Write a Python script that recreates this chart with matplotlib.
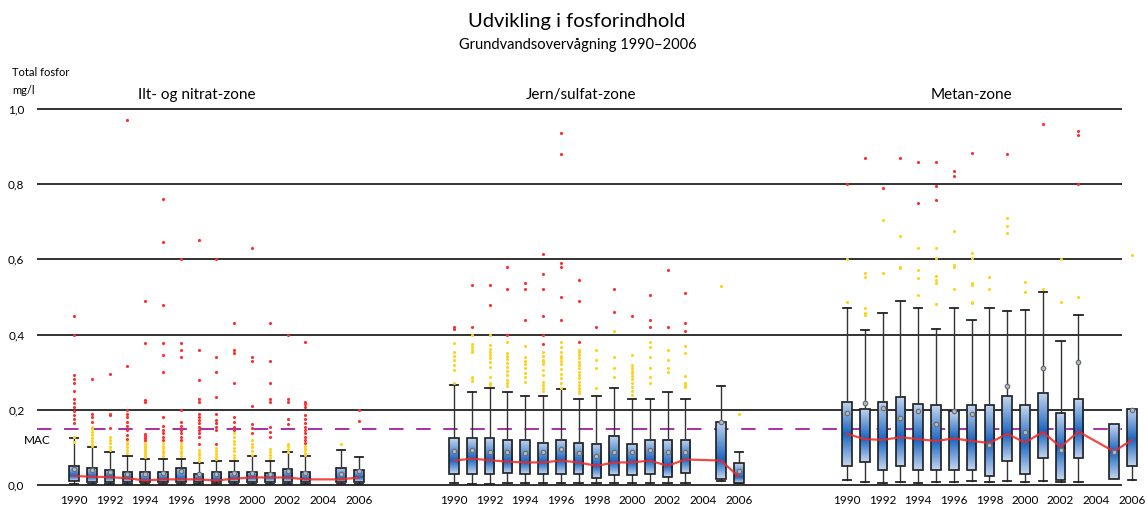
import numpy as np
import matplotlib
matplotlib.use("Agg")
import matplotlib.pyplot as plt
from matplotlib.colors import LinearSegmentedColormap
from matplotlib.patches import Rectangle

plt.rcParams['font.family'] = ['Lato', 'DejaVu Sans']

years = [1990, 1991, 1992, 1993, 1994, 1995, 1996, 1997, 1998, 1999, 2000, 2001, 2002, 2003, 2005, 2006]
tick_years = [1990, 1992, 1994, 1996, 1998, 2000, 2002, 2004, 2006]
zones = ["Ilt- og nitrat-zone", "Jern/sulfat-zone", "Metan-zone"]
mac = 0.15

# Ilt- og nitrat-zone
z1_low = [0.002, 0.002, 0.002, 0.002, 0.002, 0.002, 0.002, 0.002, 0.002, 0.002, 0.002, 0.002, 0.002, 0.002, 0.002, 0.002]
z1_q1 = [0.010, 0.008, 0.008, 0.007, 0.007, 0.008, 0.008, 0.007, 0.007, 0.008, 0.008, 0.007, 0.008, 0.007, 0.008, 0.008]
z1_med = [0.024, 0.022, 0.021, 0.018, 0.012, 0.015, 0.015, 0.015, 0.012, 0.017, 0.020, 0.020, 0.020, 0.015, 0.015, 0.020]
z1_q3 = [0.051, 0.046, 0.040, 0.035, 0.035, 0.035, 0.046, 0.030, 0.034, 0.035, 0.035, 0.033, 0.043, 0.035, 0.046, 0.040]
z1_high = [0.126, 0.101, 0.087, 0.078, 0.070, 0.070, 0.070, 0.059, 0.063, 0.063, 0.077, 0.063, 0.087, 0.078, 0.093, 0.074]
z1_mean = [0.042, 0.039, 0.034, 0.030, 0.030, 0.033, 0.037, 0.028, 0.030, 0.033, 0.032, 0.030, 0.037, 0.032, 0.030, 0.036]
z1_yellow = [
    [0.128, 0.115],
    [0.155, 0.148, 0.140, 0.133, 0.125, 0.118, 0.110, 0.104],
    [0.128, 0.120, 0.112, 0.100, 0.092],
    [0.115, 0.108, 0.100, 0.093, 0.085],
    [0.115, 0.110, 0.105, 0.100, 0.095, 0.090, 0.085, 0.080, 0.075],
    [0.112, 0.105, 0.098, 0.091, 0.084, 0.077],
    [0.112, 0.105, 0.098, 0.091, 0.084, 0.077],
    [0.093, 0.086, 0.079, 0.072, 0.065],
    [0.098, 0.090, 0.082, 0.075, 0.068],
    [0.137, 0.128, 0.118, 0.108, 0.098, 0.090, 0.080, 0.072],
    [0.120, 0.110, 0.100, 0.090, 0.080],
    [0.095, 0.088, 0.080, 0.072],
    [0.110, 0.103, 0.095, 0.088],
    [0.105, 0.098, 0.092, 0.085, 0.080],
    [0.109],
    [],
]
z1_red = [
    [0.45, 0.40, 0.292, 0.281, 0.270, 0.251, 0.229, 0.217, 0.207, 0.196, 0.185, 0.175, 0.164],
    [0.281, 0.190, 0.180, 0.168],
    [0.295, 0.190, 0.185, 0.151],
    [0.97, 0.316, 0.200, 0.190, 0.180, 0.168, 0.157, 0.146, 0.134, 0.123],
    [0.49, 0.378, 0.226, 0.220, 0.135, 0.130, 0.125, 0.120],
    [0.76, 0.646, 0.48, 0.378, 0.346, 0.301, 0.180, 0.157, 0.146, 0.137, 0.128, 0.120],
    [0.60, 0.378, 0.360, 0.341, 0.200, 0.167, 0.157, 0.146, 0.137, 0.128, 0.120],
    [0.651, 0.360, 0.279, 0.229, 0.222, 0.188, 0.182, 0.173, 0.164, 0.155, 0.146, 0.137, 0.128, 0.110],
    [0.60, 0.341, 0.301, 0.235, 0.190, 0.173, 0.164, 0.155, 0.146, 0.109],
    [0.43, 0.360, 0.350, 0.270, 0.180, 0.168, 0.155, 0.146],
    [0.63, 0.341, 0.330, 0.210, 0.162, 0.151, 0.137],
    [0.43, 0.330, 0.270, 0.230, 0.222, 0.155, 0.142, 0.128],
    [0.40, 0.228, 0.222, 0.175, 0.163],
    [0.38, 0.222, 0.215, 0.208, 0.186, 0.175, 0.164, 0.155, 0.146, 0.137, 0.128, 0.120, 0.112],
    [],
    [0.200, 0.170],
]

# Jern/sulfat-zone
z2_low = [0.006, 0.002, 0.002, 0.006, 0.006, 0.006, 0.006, 0.006, 0.006, 0.006, 0.006, 0.006, 0.006, 0.006, 0.010, 0.004]
z2_q1 = [0.029, 0.029, 0.029, 0.033, 0.029, 0.029, 0.029, 0.029, 0.019, 0.026, 0.026, 0.029, 0.022, 0.033, 0.015, 0.006]
z2_med = [0.065, 0.070, 0.066, 0.062, 0.060, 0.060, 0.065, 0.060, 0.051, 0.060, 0.060, 0.065, 0.051, 0.068, 0.065, 0.022]
z2_q3 = [0.124, 0.124, 0.124, 0.121, 0.121, 0.113, 0.121, 0.113, 0.110, 0.131, 0.110, 0.121, 0.121, 0.121, 0.168, 0.059]
z2_high = [0.267, 0.248, 0.259, 0.248, 0.238, 0.238, 0.255, 0.230, 0.238, 0.259, 0.230, 0.230, 0.248, 0.230, 0.262, 0.089]
z2_mean = [0.090, 0.092, 0.089, 0.089, 0.085, 0.087, 0.097, 0.085, 0.078, 0.087, 0.089, 0.092, 0.089, 0.089, 0.168, 0.038]
z2_yellow = [
    [0.377, 0.355, 0.343, 0.333, 0.319, 0.306, 0.270],
    [0.400, 0.376, 0.367, 0.360, 0.354, 0.288, 0.284, 0.277],
    [0.400, 0.372, 0.363, 0.355, 0.346, 0.337, 0.328, 0.315, 0.286, 0.270, 0.266],
    [0.381, 0.352, 0.343, 0.335, 0.324, 0.314, 0.304, 0.293, 0.280, 0.271, 0.262],
    [0.370, 0.340, 0.331, 0.322, 0.310, 0.297, 0.286, 0.275],
    [0.354, 0.343, 0.332, 0.328, 0.322, 0.306, 0.293, 0.275, 0.266, 0.257, 0.251],
    [0.381, 0.368, 0.354, 0.343, 0.337, 0.331, 0.322, 0.308, 0.296, 0.284, 0.271, 0.257],
    [0.360, 0.354, 0.345, 0.337, 0.328, 0.319, 0.310, 0.301, 0.293, 0.284, 0.275, 0.266, 0.257, 0.251, 0.244],
    [0.360, 0.332, 0.310, 0.259],
    [0.410, 0.341, 0.310, 0.286],
    [0.346, 0.319, 0.310, 0.304, 0.297, 0.290, 0.281, 0.271, 0.260, 0.249, 0.240],
    [0.381, 0.368, 0.340, 0.310, 0.288, 0.271],
    [0.360, 0.332, 0.310, 0.301],
    [0.370, 0.350, 0.290, 0.271, 0.266, 0.260],
    [0.53],
    [0.19],
]
z2_red = [
    [0.421, 0.416],
    [0.532, 0.421],
    [0.532, 0.48],
    [0.58, 0.52, 0.40],
    [0.536, 0.521, 0.44],
    [0.615, 0.561, 0.521, 0.45, 0.40, 0.375],
    [0.936, 0.881, 0.59, 0.58, 0.501, 0.44],
    [0.545, 0.49, 0.381],
    [0.421],
    [0.521, 0.459],
    [0.45],
    [0.506, 0.44, 0.421],
    [0.571, 0.421],
    [0.511, 0.43, 0.41],
    [],
    [],
]

# Metan-zone
z3_low = [0.014, 0.007, 0.004, 0.007, 0.004, 0.007, 0.007, 0.011, 0.007, 0.011, 0.007, 0.011, 0.007, 0.007, 0.016, 0.014]
z3_q1 = [0.050, 0.060, 0.041, 0.050, 0.041, 0.041, 0.041, 0.041, 0.023, 0.065, 0.030, 0.071, 0.014, 0.073, 0.016, 0.050]
z3_med = [0.136, 0.122, 0.120, 0.127, 0.122, 0.117, 0.124, 0.117, 0.112, 0.136, 0.113, 0.141, 0.101, 0.142, 0.089, 0.120]
z3_q3 = [0.222, 0.202, 0.222, 0.234, 0.216, 0.212, 0.196, 0.212, 0.212, 0.237, 0.212, 0.246, 0.191, 0.229, 0.162, 0.202]
z3_high = [0.470, 0.412, 0.457, 0.490, 0.470, 0.416, 0.470, 0.439, 0.470, 0.464, 0.465, 0.512, 0.382, 0.452, 0.162, 0.202]
z3_mean = [0.191, 0.218, 0.204, 0.178, 0.196, 0.163, 0.196, 0.188, 0.106, 0.264, 0.140, 0.312, 0.094, 0.327, 0.088, 0.200]
z3_yellow = [
    [0.60, 0.487],
    [0.563, 0.552, 0.470, 0.457, 0.452],
    [0.706, 0.565],
    [0.662, 0.580, 0.576],
    [0.631, 0.571, 0.551, 0.506],
    [0.631, 0.604, 0.557, 0.545, 0.536, 0.481],
    [0.676, 0.586, 0.580, 0.521],
    [0.616, 0.604, 0.536, 0.532, 0.487, 0.483],
    [0.554, 0.521],
    [0.711, 0.690, 0.671],
    [0.541, 0.512],
    [0.521],
    [0.60, 0.488],
    [0.501],
    [],
    [0.612],
]
z3_red = [
    [0.80], [0.871], [0.79], [0.871], [0.86, 0.75], [0.858, 0.796, 0.757],
    [0.836, 0.821], [0.882], [], [0.881], [], [0.96], [], [0.942, 0.931, 0.80], [], [],
]

W, H = 1147, 511
fig = plt.figure(figsize=(W / 100, H / 100), dpi=100)
ax = fig.add_axes([37 / W, 26 / H, 1 - 37 / W, 376 / H])

# x layout: one unit per year slot (~17.8 px), zones placed side by side
slot = 17.8
def px2x(px):
    return (px - 74) / slot
offsets = [0.0, px2x(454), px2x(847)]
for s in ax.spines.values():
    s.set_visible(False)

yt = [0.0, 0.2, 0.4, 0.6, 0.8, 1.0]
ax.hlines(yt, px2x(37), px2x(1122), colors='#222222', lw=1.3, zorder=1, clip_on=False)
ax.hlines(mac, px2x(37), px2x(1122), colors='#a020a0', lw=1.3, linestyles=(0, (8, 7)), zorder=2)
ax.set_yticks(yt)
ax.set_yticklabels([f"{v:.1f}".replace('.', ',') for v in yt], fontsize=8.5)
ax.tick_params(axis='y', length=0, pad=9)

xt, xl = [], []
for off in offsets:
    for y in tick_years:
        xt.append(off + y - 1990)
        xl.append(str(y))
ax.set_xticks(xt)
ax.set_xticklabels(xl, fontsize=8.5)
ax.tick_params(axis='x', length=0, pad=7)

cmap = LinearSegmentedColormap.from_list('bx', ['#c3d6f0', '#1a64c0'])
bw, cw = 0.55, 0.48

zone_data = [
    (z1_low, z1_q1, z1_med, z1_q3, z1_high, z1_mean, z1_yellow, z1_red),
    (z2_low, z2_q1, z2_med, z2_q3, z2_high, z2_mean, z2_yellow, z2_red),
    (z3_low, z3_q1, z3_med, z3_q3, z3_high, z3_mean, z3_yellow, z3_red),
]

for off, (lo, q1, med, q3, hi, mn, yel, red) in zip(offsets, zone_data):
    xs = [off + y - 1990 for y in years]
    for i, x in enumerate(xs):
        # whiskers
        if hi[i] > q3[i]:
            ax.plot([x, x], [q3[i], hi[i]], color='#333333', lw=1.0, zorder=3)
            ax.plot([x - cw / 2, x + cw / 2], [hi[i], hi[i]], color='#222222', lw=1.3, zorder=3)
        if lo[i] < q1[i]:
            ax.plot([x, x], [lo[i], q1[i]], color='#333333', lw=1.0, zorder=3)
            ax.plot([x - cw / 2, x + cw / 2], [lo[i], lo[i]], color='#222222', lw=1.3, zorder=3)
        # box with gradient, darkest at the median
        yy = np.linspace(q1[i], q3[i], 80)
        t = np.where(yy < med[i],
                     (yy - q1[i]) / max(med[i] - q1[i], 1e-6),
                     (q3[i] - yy) / max(q3[i] - med[i], 1e-6))
        ax.imshow(t[:, None], extent=(x - bw / 2, x + bw / 2, q1[i], q3[i]), origin='lower',
                  aspect='auto', cmap=cmap, vmin=0, vmax=1, zorder=4, clip_on=False)
        ax.add_patch(Rectangle((x - bw / 2, q1[i]), bw, q3[i] - q1[i], fill=False,
                               ec='#1e1e1e', lw=1.2, zorder=4.5, clip_on=False))
        # outliers
        if yel[i]:
            ax.scatter([x] * len(yel[i]), yel[i], s=5, color='#ffd21f', lw=0, zorder=5)
        if red[i]:
            ax.scatter([x] * len(red[i]), red[i], s=5, color='#ff2f2f', lw=0, zorder=5)
    ax.plot(xs, med, color='#f02828', lw=1.6, alpha=0.85, zorder=6, clip_on=False)
    ax.plot(xs, mn, ls='none', marker='o', ms=3.2, mfc='#b4bcc6', mec='#6a7078', mew=0.9,
            zorder=7, clip_on=False)

ax.set_xlim(px2x(37), px2x(W))
ax.set_ylim(0, 1.0)

def fx(px):
    return px / W
def fy(py):
    return 1 - py / H

fig.text(fx(577), fy(22), "Udvikling i fosforindhold", ha='center', va='center', fontsize=14.5)
fig.text(fx(578), fy(45), "Grundvandsovervågning 1990–2006", ha='center', va='center', fontsize=10.5)
fig.text(fx(12), fy(73), "Total fosfor", ha='left', va='center', fontsize=8)
fig.text(fx(12), fy(90), "mg/l", ha='left', va='center', fontsize=8)
fig.text(fx(37), fy(440), "MAC", ha='center', va='center', fontsize=8.5)
for name, cx in zip(zones, [197, 581, 971]):
    fig.text(fx(cx), fy(95), name, ha='center', va='center', fontsize=11)

fig.savefig("out.png", dpi=100)
